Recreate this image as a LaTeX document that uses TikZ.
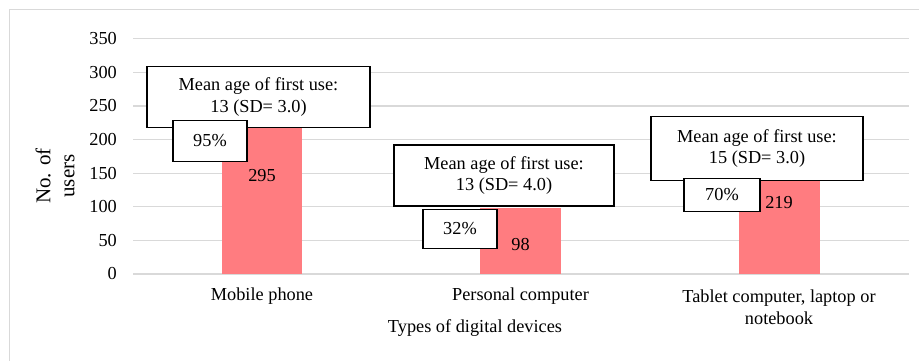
\documentclass[tikz,border=0pt]{standalone}
\usepackage{fontspec}
\setmainfont{Liberation Serif}
\usetikzlibrary{positioning}
\definecolor{gridgray}{RGB}{217, 217, 217}
\definecolor{barrose}{RGB}{255, 124, 128}

\begin{document}
\begin{tikzpicture}[
    x=1pt, y=-1pt,
    font=\fontsize{18.3}{21.5}\selectfont,
    gridline/.style={gridgray, line width=1.2pt},
    bar/.style={fill=barrose},
    meanbox/.style={draw, fill=white, line width=1.4pt, align=center, minimum height=61pt, inner sep=0pt},
    pctbox/.style={draw, fill=white, line width=1.4pt, minimum width=74pt, inner sep=0pt},
    ticklabel/.style={anchor=east, inner sep=0pt}
]
    \useasboundingbox (0,0) rectangle (919,361);
    % Chart frame (top and left edges only)
    \draw[gridline] (919,9.5) -- (9.5,9.5) -- (9.5,361);

    % Grid and y ticks
    \foreach \v in {0,50,...,350} {
        \draw[gridline] (133,{274-0.672*\v}) -- (909,{274-0.672*\v});
        \node[ticklabel] (tick\v) at (117,{274-0.672*\v}) {\v};
    }

    % Bars
    \fill[bar] (222,274) rectangle (302,{274-0.672*295});
    \fill[bar] (480,274) rectangle (561,{274-0.672*98});
    \fill[bar] (739,274) rectangle (820,{274-0.672*219});

    % Value labels
    \node (val295) at (262,176) {295};
    \node (val98) at (520.5,245) {98};
    \node (val219) at (779,203) {219};

    % Mean age boxes
    \node[meanbox, minimum width=223pt] (meanphone) at (258.5,97) {Mean age of first use:\\13 (SD= 3.0)};
    \node[meanbox, minimum width=220pt] (meanpc) at (504,175.5) {Mean age of first use:\\13 (SD= 4.0)};
    \node[meanbox, minimum width=212pt, minimum height=64pt] (meantab) at (757,148.5) {Mean age of first use:\\15 (SD= 3.0)};

    % Share boxes
    \node[pctbox, minimum height=41pt] (pctphone) at (210,141) {95\%};
    \node[pctbox, minimum height=39.5pt] (pctpc) at (460,229) {32\%};
    \node[pctbox, minimum width=76pt, minimum height=33pt] (pcttab) at (722,195) {70\%};

    % Category labels
    \node (catphone) at (262,296) {Mobile phone};
    \node (catpc) at (520.5,296) {Personal computer};
    \node[align=center] (cattab) at (779,307) {Tablet computer, laptop or\\notebook};

    % Axis titles
    \node (xtitle) at (475,328) {Types of digital devices};
    \node[rotate=90, align=center, font=\fontsize{21}{24}\selectfont] (ytitle) at (55,176) {No. of\\users};
\end{tikzpicture}
\end{document}
